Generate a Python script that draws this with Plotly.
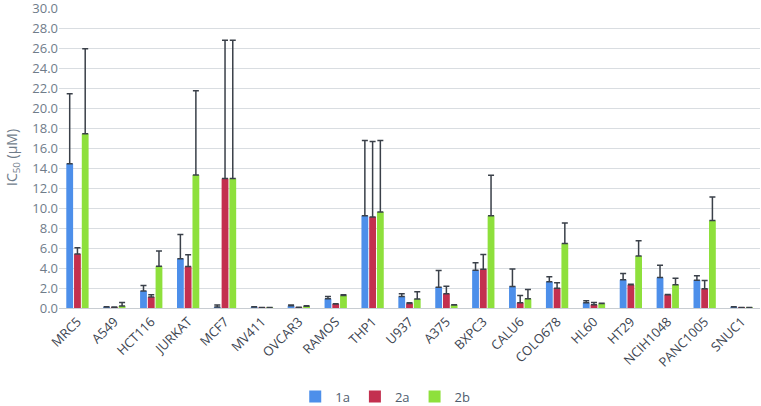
import plotly.graph_objects as go

cells = ["MRC5", "A549", "HCT116", "JURKAT", "MCF7", "MV411", "OVCAR3", "RAMOS", "THP1",
         "U937", "A375", "BXPC3", "CALU6", "COLO678", "HL60", "HT29", "NCIH1048", "PANC1005", "SNUC1"]

v_1a = [14.46, 0.10, 1.70, 4.94, 0.10, 0.10, 0.23, 0.93, 9.25,
        1.16, 2.09, 3.78, 2.16, 2.62, 0.53, 2.82, 3.05, 2.79, 0.10]
top_1a = [21.46, 0.13, 2.26, 7.36, 0.30, 0.13, 0.30, 1.16, 16.78,
          1.43, 3.75, 4.54, 3.90, 3.12, 0.73, 3.45, 4.28, 3.22, 0.13]

v_2a = [5.40, 0.08, 1.10, 4.15, 12.97, 0.05, 0.06, 0.40, 9.12,
        0.46, 1.43, 3.88, 0.53, 1.99, 0.33, 2.32, 1.33, 1.92, 0.05]
top_2a = [6.04, 0.10, 1.33, 5.34, 26.83, 0.06, 0.08, 0.42, 16.68,
          0.53, 2.19, 5.37, 1.26, 2.52, 0.56, 2.39, 1.36, 2.75, 0.06]

v_2b = [17.45, 0.20, 4.18, 13.33, 12.97, 0.05, 0.17, 1.26, 9.62,
        0.90, 0.30, 9.25, 0.93, 6.47, 0.46, 5.20, 2.32, 8.76, 0.05]
top_2b = [25.97, 0.56, 5.70, 21.76, 26.83, 0.06, 0.22, 1.33, 16.78,
          1.63, 0.33, 13.30, 1.86, 8.52, 0.48, 6.73, 2.98, 11.11, 0.06]

y_ticks = [i * 2 for i in range(16)]

series = [("1a", v_1a, top_1a, "#4d8fea"),
          ("2a", v_2a, top_2a, "#c3304f"),
          ("2b", v_2b, top_2b, "#8ee03c")]

fig = go.Figure()
for name, vals, tops, col in series:
    fig.add_trace(go.Bar(
        x=cells, y=vals, name=name, marker_color=col, marker_line_width=0,
        error_y=dict(type="data", symmetric=False,
                     array=[t - v for t, v in zip(tops, vals)],
                     arrayminus=[0] * len(vals),
                     color="#3a4049", thickness=1.5, width=3),
    ))

txt = "#6f7c8a"
fig.update_layout(
    width=761, height=406,
    margin=dict(l=59, r=1, t=8, b=98),
    paper_bgcolor="white", plot_bgcolor="white",
    barmode="group", bargap=0.37, bargroupgap=0.12,
    font=dict(family="Open Sans, Noto Sans, sans-serif", color=txt, size=12),
    legend=dict(orientation="h", x=0.337, xanchor="left",
                yref="container", y=0.023, yanchor="middle",
                font=dict(size=13, color="#4f5d6e"), itemwidth=30,
                traceorder="normal"),
    xaxis=dict(tickangle=-45, tickfont=dict(size=13, color="#3c4450"),
               showline=True, linecolor="#c8cdd2", linewidth=1,
               ticks="", showgrid=False, automargin=False),
    yaxis=dict(range=[0, 30.05], tickvals=y_ticks, tickformat=".1f",
               tickfont=dict(size=13, color=txt), ticklabeloverflow="allow",
               showgrid=True, gridcolor="#d9dde1", gridwidth=1,
               zeroline=False, ticks="", automargin=False),
    annotations=[dict(text="IC<sub>50</sub> (μM)", xref="paper", yref="paper",
                      x=-0.067, y=0.5, xanchor="center", yanchor="middle",
                      textangle=-90, showarrow=False,
                      font=dict(size=14, color=txt))],
)

fig.write_html("out.html", config={"displayModeBar": False},
               post_script="document.body.style.margin='0';document.body.style.overflow='hidden';")
